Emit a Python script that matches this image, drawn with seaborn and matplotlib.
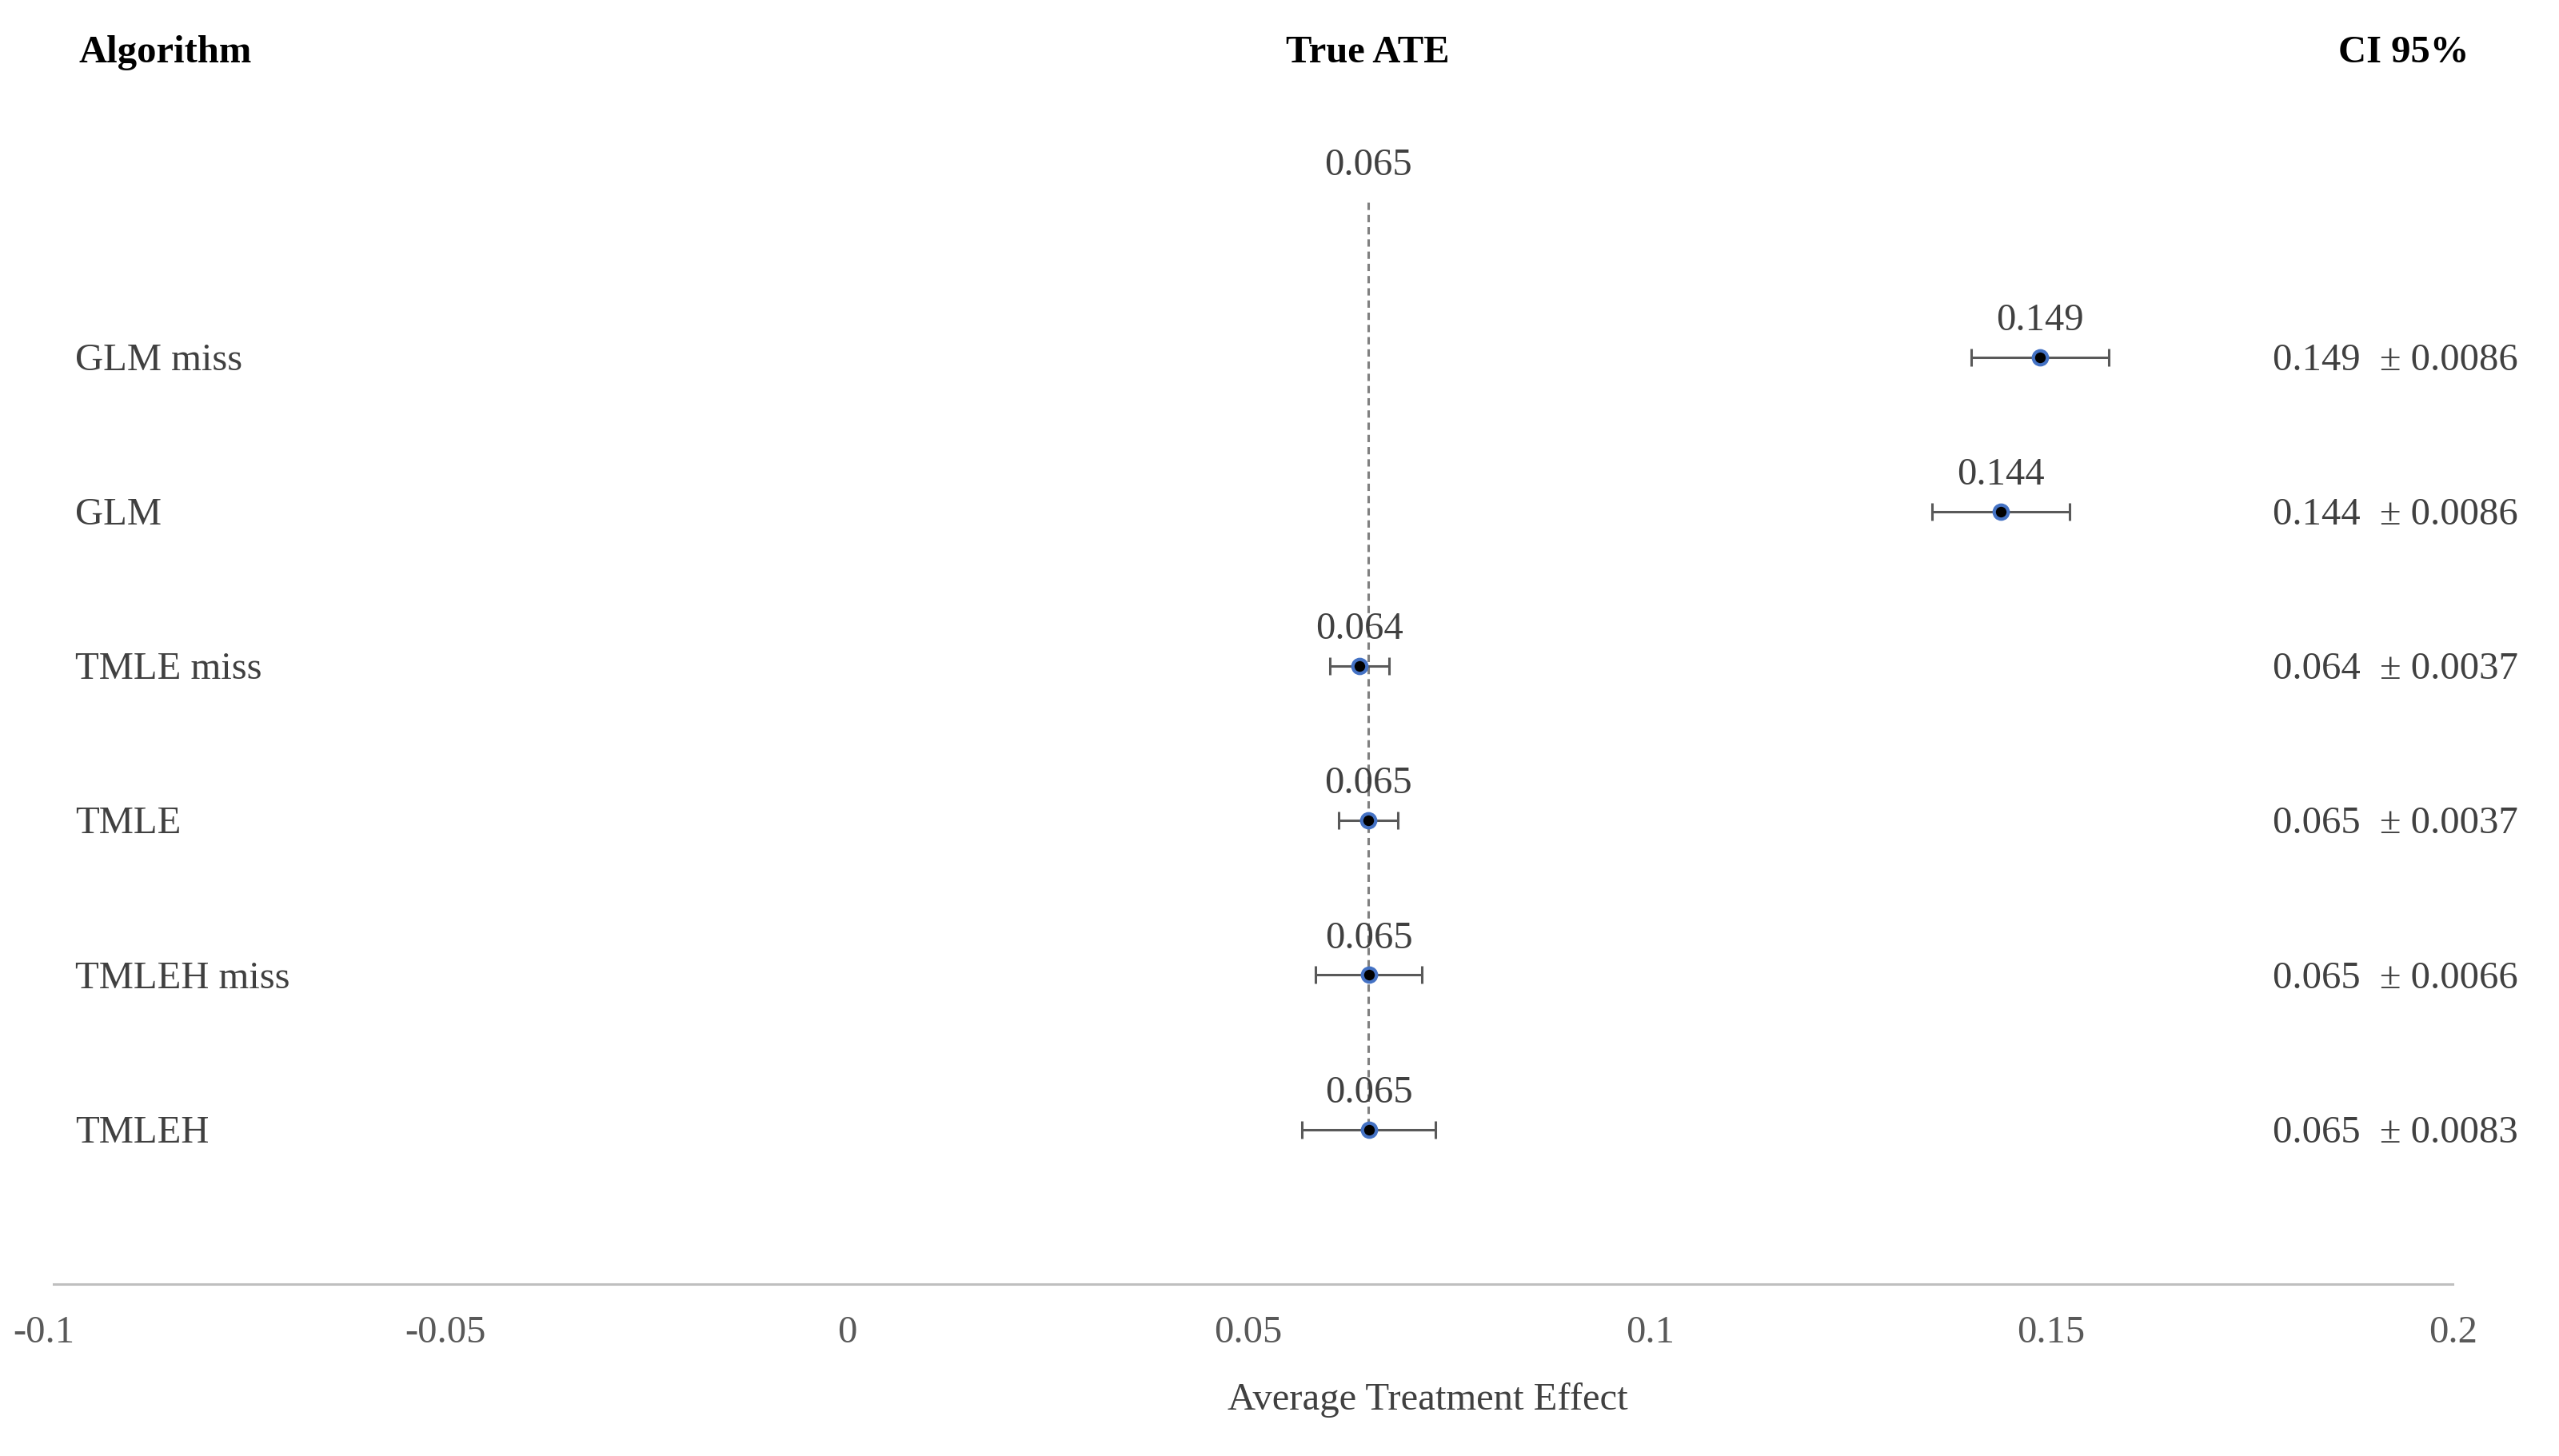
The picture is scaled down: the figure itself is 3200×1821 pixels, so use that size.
import numpy as np
import pandas as pd
import seaborn as sns
import matplotlib.pyplot as plt

# Datos
algorithms = ['GLM miss', 'GLM', 'TMLE miss', 'TMLE', 'TMLEH miss', 'TMLEH']
ate_est = [0.1486, 0.1437, 0.0638, 0.0649, 0.0650, 0.0650]
ci_half = [0.0086, 0.0086, 0.0037, 0.0037, 0.0066, 0.0083]
true_ate = 0.0649
x_ticks = [-0.1, -0.05, 0, 0.05, 0.1, 0.15, 0.2]
x_tick_labels = ['-0.1', '-0.05', '0', '0.05', '0.1', '0.15', '0.2']

df = pd.DataFrame({'algorithm': algorithms, 'ate': ate_est, 'ci': ci_half})
df['row'] = np.arange(1, len(df) + 1)

sns.set_theme(style='white')
plt.rcParams['font.family'] = ['Liberation Serif', 'DejaVu Serif']
plt.rcParams['axes.unicode_minus'] = False

TXT = '#404040'
FS = 17.5

fig = plt.figure(figsize=(16, 9.105), dpi=200)
ax = fig.add_axes([0.0172, 0.1182, 0.9413, 0.8541])

# linea del ATE verdadero (desde la fila 0 hasta la ultima)
ax.plot([true_ate, true_ate], [0, df['row'].max()], color='#808080',
        ls=(0, (3, 2)), lw=1.1, zorder=1)
ax.annotate(f'{true_ate:.3f}', (true_ate, 0), xytext=(0, 16.5),
            textcoords='offset points', ha='center', va='center',
            fontsize=FS, color=TXT)

# barras de error + puntos
ax.errorbar(df['ate'], df['row'], xerr=df['ci'], fmt='none', ecolor='#595959',
            elinewidth=1.1, capsize=4, capthick=1.1, zorder=2)
sns.scatterplot(data=df, x='ate', y='row', ax=ax, color='black', s=40,
                edgecolor='#4472C4', linewidth=1.5, zorder=3, legend=False)

for _, r in df.iterrows():
    ax.annotate(f"{r['ate']:.3f}", (r['ate'], r['row']), xytext=(0, 16.5),
                textcoords='offset points', ha='center', va='center',
                fontsize=FS, color=TXT)
    ax.annotate(r['algorithm'], (-0.0961, r['row']), xytext=(0, -1.5),
                textcoords='offset points', ha='left', va='center',
                fontsize=FS, color=TXT)
    ax.annotate(f"{r['ate']:.3f}  \u00b1 {r['ci']:.4f}", (0.1776, r['row']),
                xytext=(0, -1.5), textcoords='offset points',
                ha='left', va='center', fontsize=FS, color=TXT)

# encabezados
hdr_y = -0.97
ax.text(-0.0957, hdr_y, 'Algorithm', ha='left', va='center', fontsize=FS,
        fontweight='bold', color='black')
ax.text(true_ate, hdr_y, 'True ATE', ha='center', va='center', fontsize=FS,
        fontweight='bold', color='black')
ax.text(0.1939, hdr_y, 'CI 95%', ha='center', va='center', fontsize=FS,
        fontweight='bold', color='black')

ax.set_xlim(-0.1, 0.2)
ax.set_ylim(7, -1.05)
ax.set_xticks(x_ticks)
ax.set_xticklabels(x_tick_labels, fontsize=FS, color='#595959')
ax.set_yticks([])
ax.set_ylabel('')
ax.set_xlabel('Average Treatment Effect', fontsize=FS, color=TXT)
ax.xaxis.label.set_va('center')
ax.xaxis.set_label_coords(0.5745, -0.0937)
ax.tick_params(axis='x', length=0, pad=14)
for s in ['top', 'left', 'right']:
    ax.spines[s].set_visible(False)
ax.spines['bottom'].set_color('#BFBFBF')
ax.spines['bottom'].set_linewidth(1.1)
ax.spines['bottom'].set_bounds(-0.0988, 0.2)

fig.savefig('out.png', dpi=200, facecolor='white')
